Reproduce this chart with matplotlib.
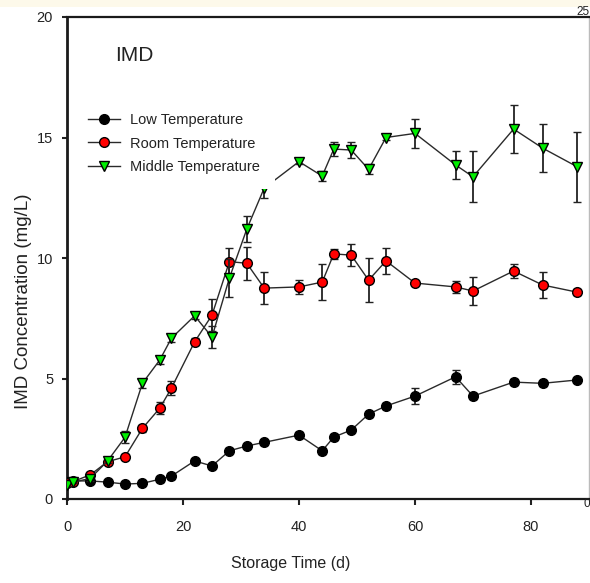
import matplotlib
matplotlib.use("Agg")
import matplotlib.pyplot as plt
from matplotlib.patches import Rectangle

plt.rcParams['font.family'] = ['Liberation Sans', 'DejaVu Sans']

# Storage time (days)
days = [0, 1, 4, 7, 10, 13, 16, 18, 22, 25, 28, 31, 34, 40, 44, 46, 49, 52, 55, 60, 67, 70, 77, 82, 88]

# IMD concentration (mg/L) and standard deviations
low_temp = [0.70, 0.75, 0.75, 0.70, 0.62, 0.65, 0.82, 0.95, 1.58, 1.37, 2.00, 2.20, 2.35,
            2.65, 2.00, 2.57, 2.86, 3.52, 3.86, 4.27, 5.07, 4.27, 4.85, 4.80, 4.94]
low_err = [0.05, 0.05, 0.08, 0.08, 0.08, 0.08, 0.10, 0.10, 0.10, 0.10, 0.10, 0.10, 0.10,
           0.12, 0.12, 0.12, 0.10, 0.10, 0.12, 0.33, 0.30, 0.12, 0.12, 0.10, 0.10]

room_temp = [0.65, 0.72, 1.00, 1.55, 1.75, 2.93, 3.77, 4.60, 6.52, 7.63, 9.85, 9.78, 8.75,
             8.80, 9.00, 10.17, 10.12, 9.08, 9.88, 8.96, 8.80, 8.63, 9.46, 8.88, 8.58]
room_err = [0.05, 0.05, 0.10, 0.10, 0.10, 0.15, 0.25, 0.30, 0.15, 0.65, 0.58, 0.68, 0.66,
            0.30, 0.75, 0.20, 0.45, 0.90, 0.54, 0.10, 0.25, 0.58, 0.30, 0.54, 0.12]

mid_temp = [0.60, 0.70, 0.85, 1.58, 2.56, 4.80, 5.77, 6.67, 7.60, 6.72, 9.17, 11.20, 12.90,
            14.00, 13.40, 14.52, 14.48, 13.68, 15.00, 15.17, 13.86, 13.37, 15.35, 14.56, 13.78]
mid_err = [0.05, 0.05, 0.10, 0.10, 0.25, 0.20, 0.15, 0.15, 0.15, 0.45, 0.80, 0.54, 0.40,
           0.12, 0.20, 0.30, 0.35, 0.20, 0.10, 0.60, 0.58, 1.05, 1.00, 0.99, 1.45]

series_names = ["Low Temperature", "Room Temperature", "Middle Temperature"]

W, H = 590, 583
fig = plt.figure(figsize=(W / 100, H / 100), dpi=100)
fig.patch.set_facecolor("white")
# pale strip along the top edge
fig.patches.append(Rectangle((0, 1 - 7 / H), 1, 7 / H, transform=fig.transFigure,
                             facecolor="#fdf9ea", edgecolor="none", zorder=0))

ax = fig.add_axes([67 / W, (H - 499) / H, (589 - 67) / W, (499 - 17) / H])

ink = "#222222"
common = dict(color="#2a2a2a", lw=1.0, ecolor=ink, elinewidth=1.3, capsize=3.2,
              capthick=1.3, markeredgecolor="black", markeredgewidth=1.0)

c_low = ax.errorbar(days, low_temp, yerr=low_err, marker="o", ms=7, markerfacecolor="black",
                    label=series_names[0], zorder=3, **common)
c_room = ax.errorbar(days, room_temp, yerr=room_err, marker="o", ms=7, markerfacecolor="#ff0000",
                     label=series_names[1], zorder=4, **common)
c_mid = ax.errorbar(days, mid_temp, yerr=mid_err, marker="v", ms=7.5, markerfacecolor="#00ee00",
                    label=series_names[2], zorder=5, **common)

ax.set_xlim(0, 90)
ax.set_ylim(0, 20)
ax.set_xticks([0, 20, 40, 60, 80])
ax.set_yticks([0, 5, 10, 15, 20])
ax.tick_params(direction="out", width=1.5, colors=ink, labelsize=10.5)
ax.tick_params(axis="x", length=4.3, pad=10.5)
ax.tick_params(axis="y", length=3.6, pad=6.4)

for side in ("left", "bottom", "top"):
    ax.spines[side].set_color("#1a1a1a")
ax.spines["left"].set_linewidth(2.0)
ax.spines["bottom"].set_linewidth(1.6)
ax.spines["top"].set_linewidth(1.6)
ax.spines["right"].set_color("#bbbbbb")
ax.spines["right"].set_linewidth(1.0)

ax.set_xlabel("Storage Time (d)", fontsize=11.5, color=ink)
ax.set_ylabel("IMD Concentration (mg/L)", fontsize=13.5, color=ink)
ax.xaxis.set_label_coords((291 - 67) / (589 - 67), -(556 - 499) / (499 - 17))
ax.yaxis.set_label_coords(-(67 - 32) / (589 - 67), (499 - 301) / (499 - 17))

ax.text(8.3, 18.4, "IMD", fontsize=15, color=ink, ha="left", va="center")

# labels of the secondary axis squeezed against the right edge
fig.text(1.0, 1 - 12 / H, "25", fontsize=8.5, color=ink, ha="right", va="center")
fig.text(1.0, 1 - 504 / H, "0", fontsize=8.5, color=ink, ha="right", va="center")

leg = ax.legend(handles=[c_low.lines[0], c_room.lines[0], c_mid.lines[0]],
                labels=series_names, loc="upper left", bbox_to_anchor=(0.0123, 0.831),
                borderaxespad=0.0, fontsize=10.5,
                frameon=True, facecolor="white", edgecolor="none", framealpha=1.0,
                handlelength=2.2, handletextpad=0.7, labelspacing=0.65, borderpad=1.0)
leg.set_zorder(10)
for t in leg.get_texts():
    t.set_color(ink)

fig.savefig("out.png", dpi=100)
